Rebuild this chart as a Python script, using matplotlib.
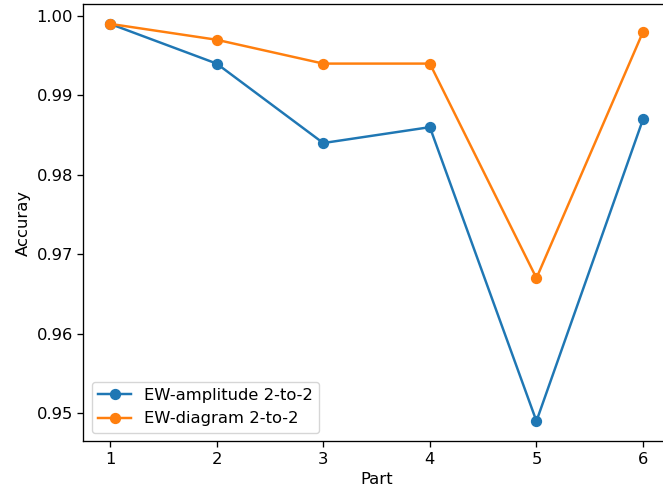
import matplotlib
matplotlib.use("Agg")
import matplotlib.pyplot as plt

parts = [1, 2, 3, 4, 5, 6]
amplitude = [0.999, 0.994, 0.984, 0.986, 0.949, 0.987]
diagram = [0.999, 0.997, 0.994, 0.994, 0.967, 0.998]
labels = ["EW-amplitude 2-to-2", "EW-diagram 2-to-2"]

W, H = 663, 497
fig = plt.figure(figsize=(W / 100, H / 100), dpi=100)
ax = fig.add_axes([83.4 / W, (H - 441) / H, 586.3 / W, 437 / H])

fs = 11.8
ax.plot(parts, amplitude, marker="o", lw=1.77, ms=7.1, label=labels[0])
ax.plot(parts, diagram, marker="o", lw=1.77, ms=7.1, label=labels[1])

ax.set_xlabel("Part", fontsize=fs)
ax.set_ylabel("Accuray", fontsize=fs)
ax.tick_params(labelsize=fs, width=0.95, length=4.1)
for s in ax.spines.values():
    s.set_linewidth(0.95)
ax.legend(loc="lower left", fontsize=fs)

fig.savefig("out.png", dpi=100)
